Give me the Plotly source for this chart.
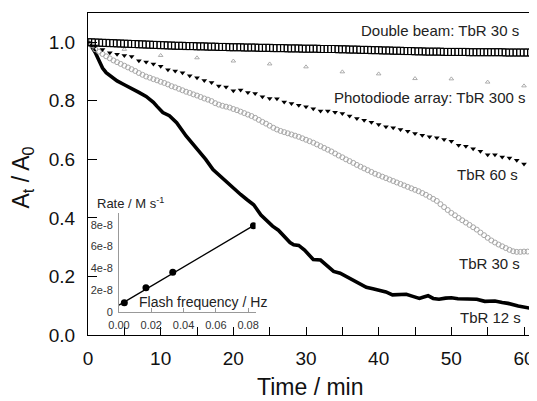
import plotly.graph_objects as go

# ---------------- data ----------------
# Double beam, TbR 30 s (open squares)
t_double = [0.0, 0.5, 1.0, 1.5, 2.0, 2.5, 3.0, 3.5, 4.0, 4.5,
            5.0, 5.5, 6.0, 6.5, 7.0, 7.5, 8.0, 8.5, 9.0, 9.5,
            10.0, 10.5, 11.0, 11.5, 12.0, 12.5, 13.0, 13.5, 14.0, 14.5,
            15.0, 15.5, 16.0, 16.5, 17.0, 17.5, 18.0, 18.5, 19.0, 19.5,
            20.0, 20.5, 21.0, 21.5, 22.0, 22.5, 23.0, 23.5, 24.0, 24.5,
            25.0, 25.5, 26.0, 26.5, 27.0, 27.5, 28.0, 28.5, 29.0, 29.5,
            30.0, 30.5, 31.0, 31.5, 32.0, 32.5, 33.0, 33.5, 34.0, 34.5,
            35.0, 35.5, 36.0, 36.5, 37.0, 37.5, 38.0, 38.5, 39.0, 39.5,
            40.0, 40.5, 41.0, 41.5, 42.0, 42.5, 43.0, 43.5, 44.0, 44.5,
            45.0, 45.5, 46.0, 46.5, 47.0, 47.5, 48.0, 48.5, 49.0, 49.5,
            50.0, 50.5, 51.0, 51.5, 52.0, 52.5, 53.0, 53.5, 54.0, 54.5,
            55.0, 55.5, 56.0, 56.5, 57.0, 57.5, 58.0, 58.5, 59.0, 59.5,
            60.0, 60.5, 61.0]
a_double = [1.000, 1.000, 0.999, 0.999, 0.998, 0.998, 0.997, 0.997, 0.996, 0.996,
            0.995, 0.995, 0.994, 0.994, 0.993, 0.993, 0.992, 0.992, 0.991, 0.991,
            0.990, 0.990, 0.989, 0.989, 0.988, 0.988, 0.988, 0.987, 0.987, 0.987,
            0.986, 0.986, 0.986, 0.985, 0.985, 0.985, 0.984, 0.984, 0.984, 0.983,
            0.983, 0.983, 0.983, 0.982, 0.982, 0.982, 0.982, 0.981, 0.981, 0.981,
            0.981, 0.980, 0.980, 0.980, 0.980, 0.979, 0.979, 0.979, 0.979, 0.978,
            0.978, 0.978, 0.978, 0.978, 0.977, 0.977, 0.977, 0.977, 0.977, 0.976,
            0.976, 0.976, 0.975, 0.975, 0.975, 0.974, 0.974, 0.974, 0.973, 0.973,
            0.973, 0.972, 0.972, 0.972, 0.971, 0.971, 0.971, 0.970, 0.970, 0.970,
            0.969, 0.969, 0.969, 0.968, 0.968, 0.968, 0.968, 0.968, 0.967, 0.967,
            0.967, 0.967, 0.967, 0.967, 0.967, 0.966, 0.966, 0.966, 0.966, 0.966,
            0.966, 0.966, 0.966, 0.966, 0.966, 0.965, 0.965, 0.965, 0.965, 0.965,
            0.965, 0.965, 0.965]

# Photodiode array, TbR 300 s (open triangles)
t_pda = [0, 5, 10, 15, 20, 25, 30, 35, 40, 45, 50, 55, 60]
a_pda = [1.000, 0.976, 0.955, 0.947, 0.936, 0.926, 0.916, 0.899, 0.892, 0.876, 0.875, 0.864, 0.851]

# TbR 60 s (filled down triangles)
t_60 = [0, 1, 2, 3, 4, 5, 6, 7, 8, 9,
        10, 11, 12, 13, 14, 15, 16, 17, 18, 19,
        20, 21, 22, 23, 24, 25, 26, 27, 28, 29,
        30, 31, 32, 33, 34, 35, 36, 37, 38, 39,
        40, 41, 42, 43, 44, 45, 46, 47, 48, 49,
        50, 51, 52, 53, 54, 55, 56, 57, 58, 59, 60]
a_60 = [1.000, 0.987, 0.975, 0.964, 0.959, 0.955, 0.951, 0.937, 0.933, 0.926,
        0.918, 0.906, 0.902, 0.896, 0.886, 0.879, 0.869, 0.863, 0.851, 0.847,
        0.834, 0.837, 0.828, 0.825, 0.814, 0.808, 0.807, 0.796, 0.791, 0.785,
        0.780, 0.773, 0.765, 0.765, 0.761, 0.757, 0.748, 0.740, 0.734, 0.727,
        0.719, 0.711, 0.708, 0.702, 0.696, 0.688, 0.682, 0.677, 0.674, 0.668,
        0.662, 0.648, 0.645, 0.636, 0.628, 0.616, 0.616, 0.608, 0.605, 0.597, 0.584]

# TbR 30 s (small open circles)
t_30 = [0.0, 0.5, 1.0, 1.5, 2.0, 2.5, 3.0, 3.5, 4.0, 4.5,
        5.0, 5.5, 6.0, 6.5, 7.0, 7.5, 8.0, 8.5, 9.0, 9.5,
        10.0, 10.5, 11.0, 11.5, 12.0, 12.5, 13.0, 13.5, 14.0, 14.5,
        15.0, 15.5, 16.0, 16.5, 17.0, 17.5, 18.0, 18.5, 19.0, 19.5,
        20.0, 20.5, 21.0, 21.5, 22.0, 22.5, 23.0, 23.5, 24.0, 24.5,
        25.0, 25.5, 26.0, 26.5, 27.0, 27.5, 28.0, 28.5, 29.0, 29.5,
        30.0, 30.5, 31.0, 31.5, 32.0, 32.5, 33.0, 33.5, 34.0, 34.5,
        35.0, 35.5, 36.0, 36.5, 37.0, 37.5, 38.0, 38.5, 39.0, 39.5,
        40.0, 40.5, 41.0, 41.5, 42.0, 42.5, 43.0, 43.5, 44.0, 44.5,
        45.0, 45.5, 46.0, 46.5, 47.0, 47.5, 48.0, 48.5, 49.0, 49.5,
        50.0, 50.5, 51.0, 51.5, 52.0, 52.5, 53.0, 53.5, 54.0, 54.5,
        55.0, 55.5, 56.0, 56.5, 57.0, 57.5, 58.0, 58.5, 59.0, 59.5,
        60.0, 60.5]
a_30 = [1.000, 0.990, 0.976, 0.968, 0.960, 0.952, 0.945, 0.938, 0.932, 0.926,
        0.920, 0.914, 0.908, 0.902, 0.895, 0.889, 0.883, 0.879, 0.874, 0.870,
        0.865, 0.861, 0.856, 0.850, 0.846, 0.841, 0.836, 0.831, 0.827, 0.822,
        0.818, 0.813, 0.808, 0.804, 0.799, 0.792, 0.787, 0.783, 0.780, 0.777,
        0.772, 0.768, 0.763, 0.758, 0.753, 0.748, 0.742, 0.735, 0.728, 0.722,
        0.715, 0.708, 0.702, 0.697, 0.693, 0.689, 0.685, 0.681, 0.677, 0.672,
        0.667, 0.662, 0.657, 0.651, 0.645, 0.639, 0.633, 0.627, 0.620, 0.613,
        0.607, 0.600, 0.594, 0.588, 0.581, 0.575, 0.569, 0.563, 0.557, 0.551,
        0.546, 0.541, 0.536, 0.531, 0.526, 0.521, 0.516, 0.511, 0.506, 0.501,
        0.496, 0.491, 0.485, 0.479, 0.472, 0.465, 0.458, 0.447, 0.437, 0.427,
        0.417, 0.409, 0.400, 0.392, 0.384, 0.376, 0.368, 0.360, 0.350, 0.341,
        0.332, 0.323, 0.316, 0.309, 0.303, 0.297, 0.291, 0.286, 0.284, 0.284,
        0.285, 0.285]

# TbR 12 s (thick line)
t_12 = [0.0, 0.5, 1.0, 1.5, 2.0, 2.5, 3.0, 4.0, 5.0, 6.0, 7.0, 8.0, 9.0, 9.5,
        10.3, 11.2, 12.2, 13.5, 15.1, 16.2, 17.2, 18.3, 19.4, 20.1, 21.0, 21.9,
        22.8, 23.8, 24.7, 25.4, 26.2, 27.0, 27.8, 28.3, 29.0, 29.8, 31.0, 32.0,
        32.9, 33.8, 34.7, 35.6, 36.5, 37.4, 38.3, 39.2, 40.1, 41.0, 41.9, 42.8,
        43.8, 44.7, 45.6, 46.2, 46.8, 47.5, 48.3, 49.2, 50.0, 50.9, 51.9, 52.8,
        53.5, 54.6, 56.0, 57.0, 57.8, 59.2, 60.2, 61.0]
a_12 = [1.000, 0.985, 0.965, 0.940, 0.912, 0.896, 0.886, 0.868, 0.855, 0.843,
        0.829, 0.815, 0.795, 0.781, 0.760, 0.749, 0.725, 0.680, 0.634, 0.600,
        0.565, 0.540, 0.514, 0.502, 0.480, 0.462, 0.445, 0.410, 0.388, 0.372,
        0.358, 0.338, 0.316, 0.308, 0.306, 0.290, 0.258, 0.256, 0.236, 0.217,
        0.211, 0.199, 0.185, 0.172, 0.163, 0.158, 0.153, 0.147, 0.137, 0.139,
        0.139, 0.132, 0.125, 0.130, 0.134, 0.125, 0.122, 0.126, 0.127, 0.124,
        0.123, 0.122, 0.122, 0.115, 0.116, 0.111, 0.108, 0.099, 0.095, 0.091]

# Inset: rate vs flash frequency
flash_freq = [0.0033, 0.0167, 0.0333, 0.0833]
rate = [0.83e-8, 2.21e-8, 3.63e-8, 7.93e-8]
fit_freq = [0.0, 0.0833]
fit_rate = [0.60e-8, 7.93e-8]

x_ticks = [0, 10, 20, 30, 40, 50, 60]
y_ticks = [0.0, 0.2, 0.4, 0.6, 0.8, 1.0]
inset_x_ticks = [0.0, 0.02, 0.04, 0.06, 0.08]
inset_x_labels = ["0.00", "0.02", "0.04", "0.06", "0.08"]
inset_y_ticks = [0.0, 2e-8, 4e-8, 6e-8, 8e-8]
inset_y_labels = ["0", "2e-8", "4e-8", "6e-8", "8e-8"]

FONT = "Liberation Sans, Arial, sans-serif"

fig = go.Figure()

fig.add_trace(go.Scatter(x=t_12, y=a_12, mode="lines",
                         line=dict(color="black", width=3.6), showlegend=False))
fig.add_trace(go.Scatter(x=t_30, y=a_30, mode="markers",
                         marker=dict(symbol="circle-open", size=5, color="#a8a8a8",
                                     line=dict(width=1, color="#a8a8a8")),
                         showlegend=False))
fig.add_trace(go.Scatter(x=t_60, y=a_60, mode="markers",
                         marker=dict(symbol="triangle-down", size=5, color="black",
                                     line=dict(width=0)),
                         showlegend=False))
fig.add_trace(go.Scatter(x=t_pda, y=a_pda, mode="markers",
                         marker=dict(symbol="triangle-up-open", size=4, color="#999999",
                                     line=dict(width=0.8, color="#999999")),
                         showlegend=False))
fig.add_trace(go.Scatter(x=t_double, y=a_double, mode="markers",
                         marker=dict(symbol="square-open", size=7, color="black",
                                     line=dict(width=1, color="black")),
                         showlegend=False))

# inset
fig.add_trace(go.Scatter(x=fit_freq, y=fit_rate, mode="lines", xaxis="x2", yaxis="y2",
                         line=dict(color="black", width=1.3), showlegend=False))
fig.add_trace(go.Scatter(x=flash_freq, y=rate, mode="markers", xaxis="x2", yaxis="y2",
                         marker=dict(symbol="circle", size=7, color="black"),
                         showlegend=False))

fig.update_layout(
    width=529, height=393,
    margin=dict(l=80, r=2, t=5, b=66),
    paper_bgcolor="white", plot_bgcolor="white",
    font=dict(family=FONT, color="#111111"),
    xaxis=dict(range=[0, 61.1], tickvals=x_ticks, showgrid=False, zeroline=False,
               showline=True, mirror=True, linecolor="black", linewidth=1.3,
               ticks="inside", ticklen=8, tickwidth=1.2, tickcolor="black",
               minor=dict(dtick=5, ticks="inside", ticklen=8, tickwidth=1.2, tickcolor="black"),
               tickfont=dict(size=19, family=FONT), ticklabelstandoff=6),
    yaxis=dict(range=[0, 1.1], tickvals=y_ticks, tickformat=".1f", showgrid=False,
               zeroline=False, showline=True, mirror=True, linecolor="black", linewidth=1.3,
               ticks="inside", ticklen=9, tickwidth=1.2, tickcolor="black",
               tickfont=dict(size=19, family=FONT), ticklabelstandoff=8),
    xaxis2=dict(domain=[0.0698, 0.3774], anchor="y2", range=[0, 0.0846],
                tickvals=inset_x_ticks, ticktext=inset_x_labels, showgrid=False,
                zeroline=False, showline=True, linecolor="#999999", linewidth=1,
                ticks="inside", ticklen=4, tickcolor="#999999",
                tickfont=dict(size=11, family=FONT, color="#333333"), ticklabelstandoff=3),
    yaxis2=dict(domain=[0.0724, 0.3789], anchor="x2", range=[0, 9.1e-8],
                tickvals=inset_y_ticks, ticktext=inset_y_labels, showgrid=False,
                zeroline=False, showline=True, linecolor="#999999", linewidth=1,
                ticks="", tickfont=dict(size=11, family=FONT, color="#333333"),
                ticklabelstandoff=3),
)

ann_font = dict(family=FONT, size=15, color="#222222")
labels = [
    ("Double beam: TbR 30 s", 0.9754, 0.947),
    ("Photodiode array: TbR 300 s", 0.991, 0.739),
    ("TbR 60 s", 0.9732, 0.497),
    ("TbR 30 s", 0.9776, 0.2236),
    ("TbR 12 s", 0.980, 0.0559),
]
for txt, xx, yy in labels:
    fig.add_annotation(text=txt, xref="paper", yref="paper", x=xx, y=yy,
                       xanchor="right", yanchor="middle", showarrow=False, font=ann_font)

fig.add_annotation(text="Rate / M s<sup>-1</sup>", xref="paper", yref="paper",
                   x=0.0157, y=0.41, xanchor="left", yanchor="middle", showarrow=False,
                   font=dict(family=FONT, size=13, color="#222222"))
fig.add_annotation(text="Flash frequency / Hz", xref="paper", yref="paper",
                   x=0.4072, y=0.1034, xanchor="right", yanchor="middle", showarrow=False,
                   font=dict(family=FONT, size=14, color="#222222"))

fig.add_annotation(text="Time / min", xref="paper", yref="paper", x=0.5, y=-0.163,
                   xanchor="center", yanchor="middle", showarrow=False,
                   font=dict(family=FONT, size=23, color="#111111"))
fig.add_annotation(text="A<sub>t</sub> / A<sub>0</sub>", xref="paper", yref="paper",
                   x=-0.148, y=0.49, xanchor="center", yanchor="middle", textangle=-90,
                   showarrow=False, font=dict(family=FONT, size=23, color="#111111"))

fig.write_html("out.html")
